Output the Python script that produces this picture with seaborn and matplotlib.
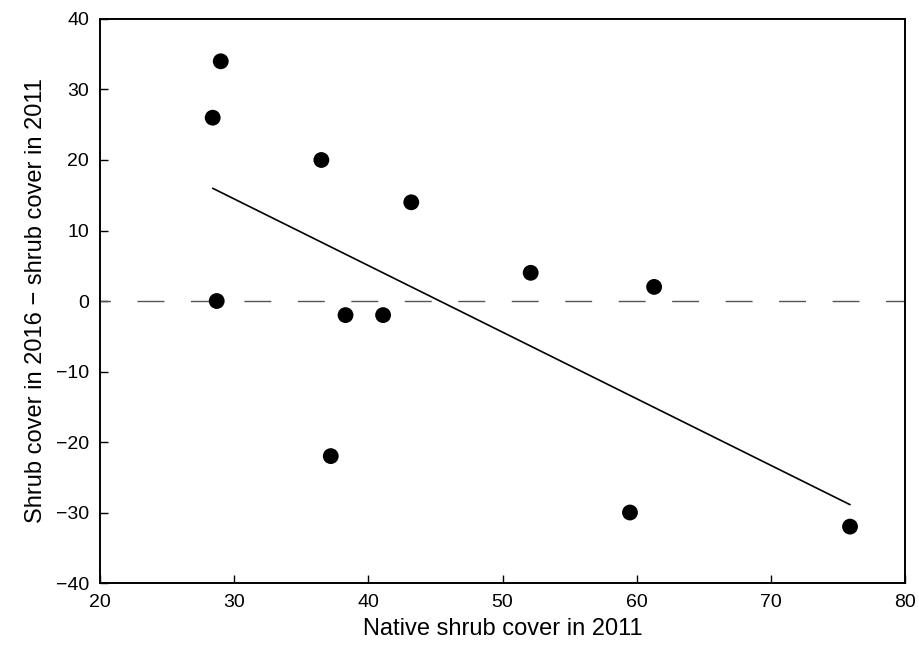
import matplotlib
matplotlib.use("Agg")
import matplotlib.pyplot as plt
import seaborn as sns
import pandas as pd

# Native shrub cover in 2011 and change in shrub cover 2011 -> 2016
native_cover_2011 = [28.4, 29.0, 28.7, 36.5, 38.3, 37.2, 41.1, 43.2, 52.1, 61.3, 59.5, 75.9]
cover_change = [26, 34, 0, 20, -2, -22, -2, 14, 4, 2, -30, -32]

x_ticks = [20, 30, 40, 50, 60, 70, 80]
y_ticks = [-40, -30, -20, -10, 0, 10, 20, 30, 40]

df = pd.DataFrame({"native": native_cover_2011, "change": cover_change})

sns.set_theme(style="ticks")
plt.rcParams["font.family"] = ["Liberation Sans", "DejaVu Sans"]
plt.rcParams["text.color"] = "black"
plt.rcParams["axes.labelcolor"] = "black"

fig = plt.figure(figsize=(9.19, 6.46), dpi=100)
ax = fig.add_axes([0.1088, 0.0975, 0.8760, 0.8731])

# zero reference line
ax.axhline(0, color="#555555", linewidth=1.0, linestyle=(11.9, (19.4, 19.1)), zorder=1)

sns.regplot(
    data=df, x="native", y="change", ax=ax, ci=None, truncate=True,
    scatter_kws={"s": 130, "color": "black", "edgecolor": "none", "alpha": 1, "zorder": 3},
    line_kws={"color": "black", "linewidth": 1.2, "zorder": 2},
)

ax.set_xlim(20, 80)
ax.set_ylim(-40, 40)
ax.set_xticks(x_ticks)
ax.set_yticks(y_ticks)
ax.set_xticklabels([str(t) for t in x_ticks])
ax.set_yticklabels([str(t).replace("-", "\u2212") for t in y_ticks])

for side in ["top", "right", "left", "bottom"]:
    ax.spines[side].set_visible(True)
    ax.spines[side].set_linewidth(1.4)
    ax.spines[side].set_color("black")

ax.tick_params(direction="in", length=5.8, width=1.0, labelsize=14, colors="black", pad=8)

ax.set_xlabel("Native shrub cover in 2011", fontsize=17, labelpad=5)
ax.set_ylabel("Shrub cover in 2016 \u2212 shrub cover in 2011", fontsize=17, labelpad=6)

fig.savefig("out.png", dpi=100)
